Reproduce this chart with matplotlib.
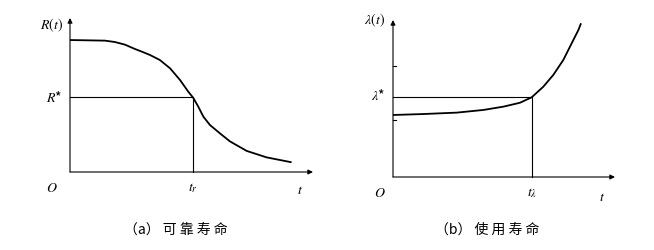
import matplotlib
matplotlib.use("Agg")
import matplotlib.pyplot as plt

plt.rcParams['mathtext.fontset'] = 'stix'
plt.rcParams['font.family'] = ['Noto Sans CJK SC', 'DejaVu Sans']

# (a) reliability life: R(t)
t_a = [0.0, 0.144, 0.185, 0.226, 0.267, 0.298, 0.329, 0.370, 0.412, 0.453, 0.487,
       0.507, 0.528, 0.549, 0.576, 0.617, 0.658, 0.727, 0.809, 0.912]
R_a = [0.857, 0.853, 0.844, 0.827, 0.799, 0.780, 0.760, 0.727, 0.673, 0.597, 0.521,
       0.482, 0.424, 0.359, 0.305, 0.251, 0.199, 0.137, 0.095, 0.063]
R_star = 0.484
t_r = 0.507

# (b) service life: lambda(t)
t_b = [0.0, 0.135, 0.287, 0.407, 0.497, 0.572, 0.625, 0.677, 0.722, 0.767, 0.805,
       0.835, 0.847]
L_b = [0.395, 0.401, 0.410, 0.427, 0.448, 0.473, 0.508, 0.575, 0.650, 0.745, 0.852,
       0.936, 0.979]
L_star = 0.508
t_L = 0.625
b_ticks = [0.363, 0.707]

captions = ["（a） 可 靠 寿 命", "（b） 使 用 寿 命"]

W, H = 654, 250
fig = plt.figure(figsize=(W / 100, H / 100), dpi=100)
fig.patch.set_facecolor('white')

def make_ax(x0, y0, x1, y1):
    ax = fig.add_axes([x0 / W, 1 - y0 / H, (x1 - x0) / W, (y0 - y1) / H])
    ax.set_xlim(0, 1)
    ax.set_ylim(0, 1)
    ax.axis('off')
    arrow = dict(arrowstyle='-|>', lw=0.8, color='black', mutation_scale=7,
                 shrinkA=0, shrinkB=0)
    ax.annotate('', xy=(1, 0), xytext=(0, 0), arrowprops=arrow, annotation_clip=False)
    ax.annotate('', xy=(0, 1), xytext=(0, 0), arrowprops=arrow, annotation_clip=False)
    return ax

serif = dict(fontsize=10, color='black')
curve = dict(color='black', lw=1.3, clip_on=False, solid_capstyle='butt',
             solid_joinstyle='round')

# Left panel
ax1 = make_ax(70, 172, 313, 18)
ax1.plot(t_a, R_a, **curve)
ax1.plot([0, t_r, t_r], [R_star, R_star, 0], color='black', lw=0.8, clip_on=False)
ax1.text(-0.03, 0.955, r'$R(t)$', ha='right', va='center', **serif)
ax1.text(-0.03, R_star, r'$R$*', ha='right', va='center', **serif)
ax1.text(-0.074, -0.104, r'$O$', ha='center', va='center', **serif)
ax1.text(t_r, -0.104, r'$t_r$', ha='center', va='center', **serif)
ax1.text(0.947, -0.117, r'$t$', ha='center', va='center', **serif)

# Right panel
ax2 = make_ax(393, 177, 615, 20)
ax2.plot(t_b, L_b, **curve)
ax2.plot([0, t_L, t_L], [L_star, L_star, 0], color='black', lw=0.8, clip_on=False)
for yt in b_ticks:
    ax2.plot([0, 0.014], [yt, yt], color='black', lw=0.8, clip_on=False)
ax2.text(-0.036, 1.0, r'$\lambda(t)$', ha='right', va='center', **serif)
ax2.text(-0.036, 0.52, r'$\lambda$*', ha='right', va='center', **serif)
ax2.text(-0.059, -0.10, r'$O$', ha='center', va='center', **serif)
ax2.text(t_L, -0.10, r'$t_\lambda$', ha='center', va='center', **serif)
ax2.text(0.941, -0.127, r'$t$', ha='center', va='center', **serif)

fig.text(176 / W, 1 - 230 / H, captions[0], ha='center', va='center', fontsize=10)
fig.text(487 / W, 1 - 230 / H, captions[1], ha='center', va='center', fontsize=10)

fig.savefig('out.png', dpi=100, facecolor='white')
